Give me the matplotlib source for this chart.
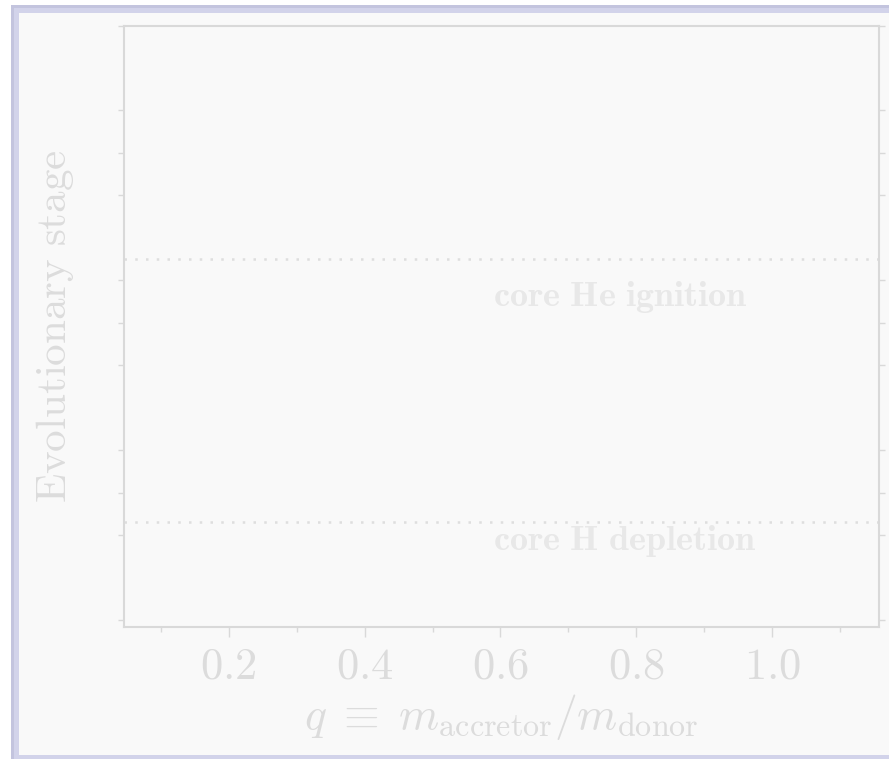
import matplotlib
matplotlib.use("Agg")
import matplotlib.pyplot as plt
from matplotlib.patches import Rectangle

plt.rcParams["mathtext.fontset"] = "cm"
plt.rcParams["font.family"] = "serif"
plt.rcParams["font.serif"] = ["cmr10", "DejaVu Serif"]
plt.rcParams["axes.unicode_minus"] = False

# axis extents and ticks
q_lim = (0.046, 1.157)
q_major = [0.2, 0.4, 0.6, 0.8, 1.0]
q_minor = [0.1, 0.3, 0.5, 0.7, 0.9, 1.1]
stage_lim = (-0.165, 14.0)
stage_ticks = [0, 2, 3, 4, 6, 7, 8, 10, 11, 12, 14]

# stage markers: (y of line, y of label, label)
stage_lines = [8.51, 2.31]
stage_label_y = [7.39, 1.65]
stage_labels = ["core He ignition", "core H depletion"]
label_q = 0.589

bg = "#f9f9f9"
faint = "#dcdcdc"
spine_c = "#d9d9d9"

fig = plt.figure(figsize=(8.89, 7.59), dpi=100, facecolor="white")

# bluish frame along the left, top and bottom edges
W, H = 889.0, 759.0
frame = [
    ((11 / W, 0), 754 / H, "#c3c4de"),
    ((14 / W, 0), 751 / H, "#d2d3ea"),
]
for xy, h, c in frame:
    fig.patches.append(Rectangle(xy, 1.2, h, transform=fig.transFigure,
                                 facecolor=c, edgecolor="none", zorder=-5))
fig.patches.append(Rectangle((19 / W, 4 / H), 1.2, (759 - 12.5 - 4) / H,
                             transform=fig.transFigure,
                             facecolor=bg, edgecolor="none", zorder=-4))

ax = fig.add_axes([124 / W, (759 - 627) / H, (879 - 124) / W, (627 - 25.5) / H])
ax.set_zorder(2)
ax.set_facecolor(bg)

ax.set_xlim(*q_lim)
ax.set_ylim(*stage_lim)

for y in stage_lines:
    ax.axhline(y, color="#dedede", linewidth=1.8, dashes=(1, 3.3), zorder=1)

for y, txt in zip(stage_label_y, stage_labels):
    ax.text(label_q, y, r"$\mathbf{" + txt.replace(" ", r"\ ") + "}$",
            color="#e8e8e8", fontsize=26, ha="left", va="baseline")

ax.set_xticks(q_major)
ax.set_xticklabels([f"${v:.1f}$" for v in q_major])
ax.set_xticks(q_minor, minor=True)
ax.set_yticks(stage_ticks)
ax.set_yticklabels([])

ax.tick_params(axis="x", which="major", direction="out", length=7, width=1,
               color=spine_c, labelcolor=faint, labelsize=32, pad=8)
ax.tick_params(axis="x", which="minor", direction="out", length=3.5, width=1,
               color=spine_c)
ax.tick_params(axis="y", which="major", direction="out", length=4, width=1,
               color=spine_c, left=True, right=True)

for s in ax.spines.values():
    s.set_color(spine_c)
    s.set_linewidth(1.5)

ax.set_xlabel(r"$q \;\equiv\; m_{\rm accretor}/m_{\rm donor}$", fontsize=33,
              color=faint, labelpad=3)
ax.set_ylabel(r"$\mathrm{Evolutionary\ stage}$", fontsize=31, color=faint,
              labelpad=27)

fig.savefig("out.png", dpi=100, facecolor="white")
